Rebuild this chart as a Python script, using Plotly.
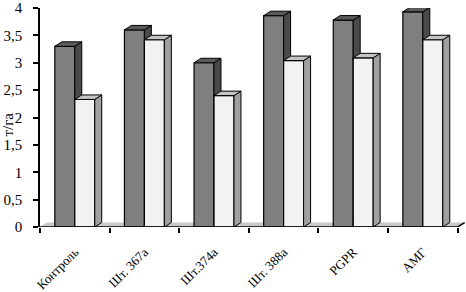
import plotly.graph_objects as go

categories = ["Контроль", "Шт. 367а", "Шт.374а", "Шт. 388а", "PGPR", "АМГ"]
series_dark = [3.3, 3.6, 3.0, 3.86, 3.78, 3.93]
series_light = [2.33, 3.42, 2.4, 3.04, 3.09, 3.42]
y_tick_values = [0, 0.5, 1, 1.5, 2, 2.5, 3, 3.5, 4]
y_tick_labels = ["0", "0,5", "1", "1,5", "2", "2,5", "3", "3,5", "4"]

# styling constants (3D look)
W = 0.287     # bar width in category units
DX = 0.10     # depth offset, x units
DY = 0.082    # depth offset, y units
FONT = "Liberation Serif"

n = len(categories)
centers = list(range(n))


def faces(x0s, vals):
    top_x, top_y, side_x, side_y = [], [], [], []
    for x0, v in zip(x0s, vals):
        x1 = x0 + W
        top_x += [x0, x0 + DX, x1 + DX, x1, x0, None]
        top_y += [v, v + DY, v + DY, v, v, None]
        side_x += [x1, x1 + DX, x1 + DX, x1, x1, None]
        side_y += [0, DY, v + DY, v, 0, None]
    return top_x, top_y, side_x, side_y


fig = go.Figure()

# floor (bottom layer)
fx = [-0.5, n - 0.5, n - 0.5 + DX, -0.5 + DX, -0.5]
fy = [0, 0, DY, DY, 0]
fig.add_trace(go.Scatter(x=fx, y=fy, mode="lines", fill="toself",
                         fillcolor="#c8c8c8", line=dict(width=0),
                         hoverinfo="skip", showlegend=False, yaxis="y"))

layers = [("y2", series_dark, [c - W for c in centers], "#7f7f7f", "#5a5a5a", "#4a4a4a"),
          ("y3", series_light, [c for c in centers], "#f2f2f2", "#c4c4c4", "#a0a0a0")]

for yax, vals, x0s, front, topc, sidec in layers:
    fig.add_trace(go.Bar(x=[x + W / 2 for x in x0s], y=vals, width=W,
                         marker=dict(color=front, line=dict(color="black", width=1.2)),
                         yaxis=yax, showlegend=False))
    tx, ty, sx, sy = faces(x0s, vals)
    fig.add_trace(go.Scatter(x=sx, y=sy, mode="lines", fill="toself", fillcolor=sidec,
                             line=dict(color="black", width=1), yaxis=yax,
                             hoverinfo="skip", showlegend=False))
    fig.add_trace(go.Scatter(x=tx, y=ty, mode="lines", fill="toself", fillcolor=topc,
                             line=dict(color="black", width=1), yaxis=yax,
                             hoverinfo="skip", showlegend=False))

# bottom axis line with 3D edge
fig.add_trace(go.Scatter(x=[-0.5, n - 0.5, n - 0.5 + DX], y=[0, 0, DY], mode="lines",
                         line=dict(color="black", width=1.5), yaxis="y3",
                         hoverinfo="skip", showlegend=False))

yrange = [0, 4]
fig.update_layout(
    width=466, height=292,
    margin=dict(l=40, r=0, t=8, b=65, autoexpand=False),
    paper_bgcolor="white", plot_bgcolor="white",
    barmode="overlay",
    xaxis=dict(range=[-0.5, n - 0.5 + 0.12], showgrid=False, zeroline=False,
               showline=False, tickvals=centers, ticktext=categories,
               tickangle=-45, ticks="", ticklabelstandoff=14, automargin=False,
               tickfont=dict(family=FONT, size=13, color="black"),
               minor=dict(tickvals=[c - 0.5 for c in centers] + [n - 0.5],
                          ticks="outside", ticklen=5, tickcolor="black", tickwidth=1.5)),
    yaxis=dict(range=yrange, showgrid=False, zeroline=False, showline=True,
               linecolor="black", linewidth=1.5, ticks="outside", ticklen=5,
               tickcolor="black", tickwidth=1.5, tickvals=y_tick_values,
               ticktext=y_tick_labels, ticklabelstandoff=8, automargin=False,
               tickfont=dict(family=FONT, size=15, color="black")),
    yaxis2=dict(range=yrange, overlaying="y", visible=False),
    yaxis3=dict(range=yrange, overlaying="y", visible=False),
    annotations=[dict(text="т/га", xref="paper", yref="paper", x=-0.074, y=0.47,
                      xanchor="center", yanchor="middle", textangle=-90, showarrow=False,
                      font=dict(family=FONT, size=15, color="black"))],
)

fig.write_html("out.html", config={"displayModeBar": False},
               post_script="document.body.style.margin='0';document.body.style.overflow='hidden';")
